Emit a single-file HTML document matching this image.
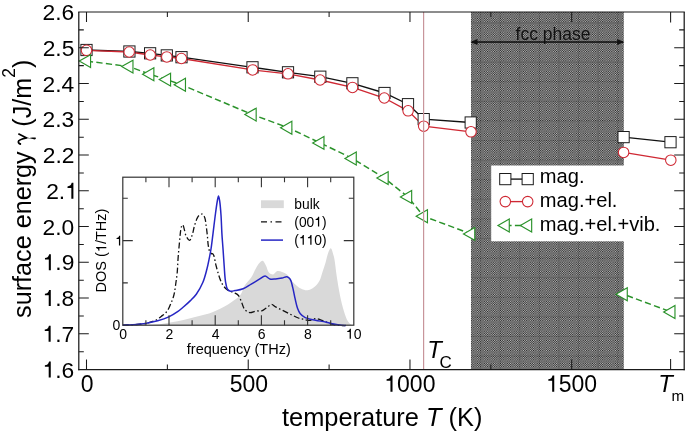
<!DOCTYPE html><html><head><meta charset="utf-8"><style>html,body{margin:0;padding:0;background:#fff;}svg{display:block;will-change:transform;}text{font-family:"Liberation Sans", sans-serif;}</style></head><body>
<svg width="685" height="431" viewBox="0 0 685 431">
<defs><pattern id="hp" x="471" y="12" width="2.3" height="2.3" patternUnits="userSpaceOnUse"><rect width="2.3" height="2.3" fill="#b8b8b8"/><rect width="1.15" height="1.15" fill="#262626"/><rect x="1.15" y="1.15" width="1.15" height="1.15" fill="#262626"/></pattern></defs>
<rect width="685" height="431" fill="#fff"/>
<polyline points="86.5,50.0 129.4,51.5 150.1,53.3 166.8,55.4 181.5,57.2 252.5,67.3 288.0,72.3 320.3,76.7 352.4,83.3 384.5,93.0 408.0,104.2 423.7,119.1 470.7,122.5 623.6,137.1 670.5,142.2" fill="none" stroke="#111" stroke-width="1.35"/>
<polyline points="86.5,50.3 129.2,52.0 150.2,55.0 166.8,56.9 181.4,58.5 252.6,69.9 288.0,73.8 320.1,80.0 352.5,87.4 384.3,98.0 408.1,110.8 423.7,126.2 471.0,131.8 623.6,152.4 670.8,160.2" fill="none" stroke="#cf2833" stroke-width="1.35"/>
<polyline points="86.8,61.1 129.2,66.6 150.1,74.3 166.8,79.6 181.7,84.8 252.4,114.6 288.1,127.7 320.2,142.9 352.5,158.5 384.4,178.1 407.9,196.9 423.7,216.3 471.0,233.9 623.5,294.2 671.2,312.0" fill="none" stroke="#2a922a" stroke-width="1.45" stroke-dasharray="6.3 3.3"/>
<rect x="471" y="12.0" width="152.79999999999995" height="357.6" fill="url(#hp)"/>
<path d="M480.6,12.0V369.6M500.2,12.0V369.6M519.8,12.0V369.6M539.4,12.0V369.6M559.0,12.0V369.6M578.6,12.0V369.6M598.2,12.0V369.6M617.8,12.0V369.6M471,258.1H623.8M471,238.5H623.8M471,218.9H623.8M471,199.3H623.8M471,179.7H623.8M471,160.1H623.8M471,140.5H623.8M471,120.9H623.8M471,101.3H623.8M471,81.7H623.8M471,62.1H623.8M471,42.5H623.8M471,22.9H623.8M471,277.7H623.8M471,297.3H623.8M471,316.9H623.8M471,336.5H623.8M471,356.1H623.8" stroke="#000" stroke-opacity="0.14" stroke-width="1" fill="none"/>
<line x1="472" y1="42" x2="623" y2="42" stroke="#111" stroke-width="1.3"/>
<polygon points="470.3,42 477.5,39 477.5,45" fill="#111"/>
<polygon points="624.3,42 617.1,39 617.1,45" fill="#111"/>
<text x="553" y="40.0" font-size="17.5" text-anchor="middle" fill="#111">fcc phase</text>
<rect x="80.90" y="44.40" width="11.2" height="11.2" fill="#fff" stroke="#1c1c1c" stroke-width="1.0"/>
<rect x="123.80" y="45.90" width="11.2" height="11.2" fill="#fff" stroke="#1c1c1c" stroke-width="1.0"/>
<rect x="144.50" y="47.70" width="11.2" height="11.2" fill="#fff" stroke="#1c1c1c" stroke-width="1.0"/>
<rect x="161.20" y="49.80" width="11.2" height="11.2" fill="#fff" stroke="#1c1c1c" stroke-width="1.0"/>
<rect x="175.90" y="51.60" width="11.2" height="11.2" fill="#fff" stroke="#1c1c1c" stroke-width="1.0"/>
<rect x="246.90" y="61.70" width="11.2" height="11.2" fill="#fff" stroke="#1c1c1c" stroke-width="1.0"/>
<rect x="282.40" y="66.70" width="11.2" height="11.2" fill="#fff" stroke="#1c1c1c" stroke-width="1.0"/>
<rect x="314.70" y="71.10" width="11.2" height="11.2" fill="#fff" stroke="#1c1c1c" stroke-width="1.0"/>
<rect x="346.80" y="77.70" width="11.2" height="11.2" fill="#fff" stroke="#1c1c1c" stroke-width="1.0"/>
<rect x="378.90" y="87.40" width="11.2" height="11.2" fill="#fff" stroke="#1c1c1c" stroke-width="1.0"/>
<rect x="402.40" y="98.60" width="11.2" height="11.2" fill="#fff" stroke="#1c1c1c" stroke-width="1.0"/>
<rect x="418.10" y="113.50" width="11.2" height="11.2" fill="#fff" stroke="#1c1c1c" stroke-width="1.0"/>
<rect x="465.10" y="116.90" width="11.2" height="11.2" fill="#fff" stroke="#1c1c1c" stroke-width="1.0"/>
<rect x="618.00" y="131.50" width="11.2" height="11.2" fill="#fff" stroke="#1c1c1c" stroke-width="1.0"/>
<rect x="664.90" y="136.60" width="11.2" height="11.2" fill="#fff" stroke="#1c1c1c" stroke-width="1.0"/>
<circle cx="86.50" cy="50.30" r="5.25" fill="#fff" stroke="#cf2833" stroke-width="1.05"/>
<circle cx="129.20" cy="52.00" r="5.25" fill="#fff" stroke="#cf2833" stroke-width="1.05"/>
<circle cx="150.20" cy="55.00" r="5.25" fill="#fff" stroke="#cf2833" stroke-width="1.05"/>
<circle cx="166.80" cy="56.90" r="5.25" fill="#fff" stroke="#cf2833" stroke-width="1.05"/>
<circle cx="181.40" cy="58.50" r="5.25" fill="#fff" stroke="#cf2833" stroke-width="1.05"/>
<circle cx="252.60" cy="69.90" r="5.25" fill="#fff" stroke="#cf2833" stroke-width="1.05"/>
<circle cx="288.00" cy="73.80" r="5.25" fill="#fff" stroke="#cf2833" stroke-width="1.05"/>
<circle cx="320.10" cy="80.00" r="5.25" fill="#fff" stroke="#cf2833" stroke-width="1.05"/>
<circle cx="352.50" cy="87.40" r="5.25" fill="#fff" stroke="#cf2833" stroke-width="1.05"/>
<circle cx="384.30" cy="98.00" r="5.25" fill="#fff" stroke="#cf2833" stroke-width="1.05"/>
<circle cx="408.10" cy="110.80" r="5.25" fill="#fff" stroke="#cf2833" stroke-width="1.05"/>
<circle cx="423.70" cy="126.20" r="5.25" fill="#fff" stroke="#cf2833" stroke-width="1.05"/>
<circle cx="471.00" cy="131.80" r="5.25" fill="#fff" stroke="#cf2833" stroke-width="1.05"/>
<circle cx="623.60" cy="152.40" r="5.25" fill="#fff" stroke="#cf2833" stroke-width="1.05"/>
<circle cx="670.80" cy="160.20" r="5.25" fill="#fff" stroke="#cf2833" stroke-width="1.05"/>
<polygon points="79.27,61.10 90.57,54.65 90.57,67.55" fill="#fff" stroke="#2a922a" stroke-width="1.15" stroke-linejoin="miter"/>
<polygon points="121.67,66.60 132.97,60.15 132.97,73.05" fill="#fff" stroke="#2a922a" stroke-width="1.15" stroke-linejoin="miter"/>
<polygon points="142.57,74.30 153.87,67.85 153.87,80.75" fill="#fff" stroke="#2a922a" stroke-width="1.15" stroke-linejoin="miter"/>
<polygon points="159.27,79.60 170.57,73.15 170.57,86.05" fill="#fff" stroke="#2a922a" stroke-width="1.15" stroke-linejoin="miter"/>
<polygon points="174.17,84.80 185.47,78.35 185.47,91.25" fill="#fff" stroke="#2a922a" stroke-width="1.15" stroke-linejoin="miter"/>
<polygon points="244.87,114.60 256.17,108.15 256.17,121.05" fill="#fff" stroke="#2a922a" stroke-width="1.15" stroke-linejoin="miter"/>
<polygon points="280.57,127.70 291.87,121.25 291.87,134.15" fill="#fff" stroke="#2a922a" stroke-width="1.15" stroke-linejoin="miter"/>
<polygon points="312.67,142.90 323.97,136.45 323.97,149.35" fill="#fff" stroke="#2a922a" stroke-width="1.15" stroke-linejoin="miter"/>
<polygon points="344.97,158.50 356.27,152.05 356.27,164.95" fill="#fff" stroke="#2a922a" stroke-width="1.15" stroke-linejoin="miter"/>
<polygon points="376.87,178.10 388.17,171.65 388.17,184.55" fill="#fff" stroke="#2a922a" stroke-width="1.15" stroke-linejoin="miter"/>
<polygon points="400.37,196.90 411.67,190.45 411.67,203.35" fill="#fff" stroke="#2a922a" stroke-width="1.15" stroke-linejoin="miter"/>
<polygon points="416.17,216.30 427.47,209.85 427.47,222.75" fill="#fff" stroke="#2a922a" stroke-width="1.15" stroke-linejoin="miter"/>
<polygon points="463.47,233.90 474.77,227.45 474.77,240.35" fill="#fff" stroke="#2a922a" stroke-width="1.15" stroke-linejoin="miter"/>
<polygon points="615.97,294.20 627.27,287.75 627.27,300.65" fill="#fff" stroke="#2a922a" stroke-width="1.15" stroke-linejoin="miter"/>
<polygon points="663.67,312.00 674.97,305.55 674.97,318.45" fill="#fff" stroke="#2a922a" stroke-width="1.15" stroke-linejoin="miter"/>
<line x1="423.6" y1="12.0" x2="423.6" y2="369.6" stroke="#c8959b" stroke-width="1.2"/>
<path d="M78.2,12.0H684.8000000000001" stroke="#1a1a1a" stroke-width="1.0"/>
<path d="M78.2,369.6H684.8000000000001" stroke="#1a1a1a" stroke-width="1.25"/>
<path d="M78.8,12.0V370.20000000000005M684.2,12.0V370.20000000000005" stroke="#1a1a1a" stroke-width="1.25"/>
<path d="M86.50,369.6v-10M86.50,12.0v10M167.37,369.6v-5M167.37,12.0v5M248.23,369.6v-10M248.23,12.0v10M329.10,369.6v-5M329.10,12.0v5M409.97,369.6v-10M409.97,12.0v10M490.84,369.6v-5M490.84,12.0v5M571.70,369.6v-10M571.70,12.0v10M670.6,369.6v-10.5M670.6,12.0v10.5M78.8,351.72h5M684.2,351.72h-5M78.8,333.84h10M684.2,333.84h-10M78.8,315.96h5M684.2,315.96h-5M78.8,298.08h10M684.2,298.08h-10M78.8,280.20h5M684.2,280.20h-5M78.8,262.32h10M684.2,262.32h-10M78.8,244.44h5M684.2,244.44h-5M78.8,226.56h10M684.2,226.56h-10M78.8,208.68h5M684.2,208.68h-5M78.8,190.80h10M684.2,190.80h-10M78.8,172.92h5M684.2,172.92h-5M78.8,155.04h10M684.2,155.04h-10M78.8,137.16h5M684.2,137.16h-5M78.8,119.28h10M684.2,119.28h-10M78.8,101.40h5M684.2,101.40h-5M78.8,83.52h10M684.2,83.52h-10M78.8,65.64h5M684.2,65.64h-5M78.8,47.76h10M684.2,47.76h-10M78.8,29.88h5M684.2,29.88h-5" stroke="#1a1a1a" stroke-width="1.05" fill="none"/>
<path d="M359,0L359,703L285,703C272,652 249,600 214,578C180,556 140,545 101,543L101,475L269,475L269,0Z" transform="translate(42.57,377.60) scale(0.02280,-0.02280)" fill="#000"/><text x="55.25" y="377.60" font-size="22.8" fill="#000">.6</text>
<path d="M359,0L359,703L285,703C272,652 249,600 214,578C180,556 140,545 101,543L101,475L269,475L269,0Z" transform="translate(42.46,341.84) scale(0.02280,-0.02280)" fill="#000"/><text x="55.14" y="341.84" font-size="22.8" fill="#000">.7</text>
<path d="M359,0L359,703L285,703C272,652 249,600 214,578C180,556 140,545 101,543L101,475L269,475L269,0Z" transform="translate(42.60,306.08) scale(0.02280,-0.02280)" fill="#000"/><text x="55.27" y="306.08" font-size="22.8" fill="#000">.8</text>
<path d="M359,0L359,703L285,703C272,652 249,600 214,578C180,556 140,545 101,543L101,475L269,475L269,0Z" transform="translate(42.67,270.32) scale(0.02280,-0.02280)" fill="#000"/><text x="55.34" y="270.32" font-size="22.8" fill="#000">.9</text>
<text x="42.55" y="234.56" font-size="22.8" fill="#000">2.0</text>
<text x="46.20" y="198.80" font-size="22.8" fill="#000">2.</text><path d="M359,0L359,703L285,703C272,652 249,600 214,578C180,556 140,545 101,543L101,475L269,475L269,0Z" transform="translate(65.21,198.80) scale(0.02280,-0.02280)" fill="#000"/>
<text x="42.83" y="163.04" font-size="22.8" fill="#000">2.2</text>
<text x="42.48" y="127.28" font-size="22.8" fill="#000">2.3</text>
<text x="42.46" y="91.52" font-size="22.8" fill="#000">2.4</text>
<text x="42.67" y="55.76" font-size="22.8" fill="#000">2.5</text>
<text x="42.57" y="20.00" font-size="22.8" fill="#000">2.6</text>
<text x="80.71" y="391.70" font-size="23" fill="#000">0</text>
<text x="229.71" y="391.70" font-size="23" fill="#000">500</text>
<path d="M359,0L359,703L285,703C272,652 249,600 214,578C180,556 140,545 101,543L101,475L269,475L269,0Z" transform="translate(384.26,391.70) scale(0.02300,-0.02300)" fill="#000"/><text x="397.05" y="391.70" font-size="23" fill="#000">000</text>
<path d="M359,0L359,703L285,703C272,652 249,600 214,578C180,556 140,545 101,543L101,475L269,475L269,0Z" transform="translate(545.99,391.70) scale(0.02300,-0.02300)" fill="#000"/><text x="558.78" y="391.70" font-size="23" fill="#000">500</text>
<text x="658.3" y="391.9" font-size="23.8" font-style="italic" fill="#000">T</text>
<text x="671.6" y="401" font-size="15.2" fill="#000">m</text>
<text x="427.3" y="358.4" font-size="23.8" font-style="italic" fill="#000">T</text>
<text x="439.5" y="367.8" font-size="17" fill="#000">C</text>
<text x="282" y="425.5" font-size="25.4" fill="#000">temperature <tspan font-style="italic">T</tspan> (K)</text>
<g transform="translate(30.8,317.9) rotate(-90)"><text x="0" y="0" font-size="25.2" fill="#000">surface energy</text><g transform="translate(173.69,0) scale(25.2,-25.2)"><path d="M0.004,0.385C0.01,0.46 0.05,0.494 0.099,0.494C0.17,0.494 0.22,0.30 0.25,0.163M0.417,0.494L0.25,0.163" fill="none" stroke="#000" stroke-width="0.068"/><path d="M0.283,0.19C0.25,0.07 0.18,-0.11 0.193,-0.17C0.203,-0.207 0.252,-0.212 0.264,-0.18C0.28,-0.12 0.262,0.0 0.222,0.19Z" fill="#000"/></g><text x="191.2" y="0" font-size="25.2" fill="#000">(J/m<tspan font-size="17.5" dy="-15.5">2</tspan><tspan dy="15.5">)</tspan></text></g>
<rect x="491.2" y="165.5" width="170" height="75.8" fill="#fff"/>
<line x1="505.3" y1="179.1" x2="527.7" y2="179.1" stroke="#111" stroke-width="1.35"/>
<rect x="499.70" y="173.50" width="11.2" height="11.2" fill="#fff" stroke="#1c1c1c" stroke-width="1.0"/><rect x="522.10" y="173.50" width="11.2" height="11.2" fill="#fff" stroke="#1c1c1c" stroke-width="1.0"/>
<line x1="505.3" y1="201.6" x2="527.7" y2="201.6" stroke="#cf2833" stroke-width="1.35"/>
<circle cx="505.30" cy="201.60" r="5.25" fill="#fff" stroke="#cf2833" stroke-width="1.05"/><circle cx="527.70" cy="201.60" r="5.25" fill="#fff" stroke="#cf2833" stroke-width="1.05"/>
<line x1="505.3" y1="225.5" x2="527.7" y2="225.5" stroke="#2a922a" stroke-width="1.45" stroke-dasharray="6.3 3.3"/>
<polygon points="497.97,225.50 509.27,219.05 509.27,231.95" fill="#fff" stroke="#2a922a" stroke-width="1.15" stroke-linejoin="miter"/><polygon points="520.37,225.50 531.67,219.05 531.67,231.95" fill="#fff" stroke="#2a922a" stroke-width="1.15" stroke-linejoin="miter"/>
<text x="539.8" y="182.7" font-size="20.1" fill="#000">mag.</text>
<text x="539.8" y="206.8" font-size="20.1" fill="#000">mag.+el.</text>
<text x="539.8" y="231.0" font-size="20.1" fill="#000">mag.+el.+vib.</text>
<rect x="122.8" y="177.2" width="231.0" height="148.0" fill="#fff"/>
<path d="M150.00,325.20C153.33,324.87 156.54,324.67 160.00,324.20C163.76,323.69 167.80,322.92 171.70,322.20C175.60,321.48 179.51,320.78 183.40,319.90C187.31,319.01 191.36,317.81 195.10,316.90C198.53,316.06 201.89,315.46 205.00,314.60C207.83,313.81 210.39,313.01 213.00,312.00C215.62,310.98 218.19,309.76 220.70,308.50C223.19,307.25 225.76,305.91 228.00,304.50C230.06,303.20 231.92,301.64 233.70,300.40C235.23,299.34 236.76,298.61 238.00,297.50C239.17,296.46 240.05,295.51 241.00,294.00C242.34,291.86 243.06,288.17 244.70,285.50C246.42,282.69 249.32,280.48 251.20,277.60C253.14,274.63 254.55,270.55 256.10,267.90C257.24,265.95 258.18,264.23 259.40,263.00C260.39,262.00 261.60,260.63 262.60,260.80C263.80,261.01 264.89,263.63 265.90,265.40C267.10,267.50 267.60,271.23 269.10,272.70C270.22,273.80 271.90,274.59 273.20,274.40C274.61,274.19 275.70,271.51 277.20,271.10C278.67,270.70 280.51,271.38 282.10,271.90C283.78,272.45 285.50,273.14 287.00,274.40C288.83,275.93 290.20,278.95 291.90,280.90C293.45,282.68 295.00,284.31 296.70,285.70C298.31,287.02 300.00,288.33 301.80,289.10C303.51,289.83 305.31,290.50 307.20,290.30C309.44,290.06 312.26,288.56 314.30,287.00C316.37,285.41 318.15,283.19 319.50,280.80C320.94,278.24 321.50,275.00 322.50,272.00C323.54,268.87 324.67,265.55 325.60,262.40C326.49,259.39 327.02,256.04 328.00,253.50C328.79,251.46 329.82,248.15 330.70,248.20C331.76,248.26 332.92,252.93 333.80,256.30C335.16,261.50 335.76,270.08 336.80,276.70C337.79,283.00 338.66,289.18 339.90,295.10C341.08,300.72 342.45,306.65 344.00,311.40C345.25,315.24 346.59,319.28 348.10,321.60C349.04,323.06 350.23,324.14 351.10,324.70C351.61,325.03 352.03,325.03 352.50,325.20Z" fill="#d9d9d9"/>
<path d="M122.80,325.20C127.43,324.97 132.61,324.86 136.70,324.50C139.94,324.21 142.72,323.93 145.40,323.40C147.77,322.93 150.02,322.24 152.00,321.60C153.66,321.06 155.04,320.70 156.50,319.90C158.11,319.02 159.68,317.52 161.20,316.40C162.61,315.36 164.08,314.67 165.30,313.40C166.65,311.99 167.82,309.99 168.80,308.20C169.74,306.48 170.39,304.59 171.10,302.90C171.75,301.37 172.37,300.07 172.90,298.50C173.49,296.76 173.96,295.02 174.40,292.90C174.96,290.18 175.35,286.74 175.80,283.50C176.28,280.03 176.83,276.58 177.20,272.70C177.63,268.18 177.74,262.92 178.10,258.00C178.47,253.02 179.00,247.42 179.40,243.00C179.72,239.50 179.93,236.47 180.30,233.60C180.62,231.14 180.76,228.32 181.40,226.80C181.77,225.91 182.39,224.84 182.80,224.90C183.33,224.98 183.65,227.15 184.10,228.60C184.73,230.63 185.06,233.94 186.10,236.00C186.99,237.76 188.59,240.51 189.60,240.40C190.64,240.28 191.47,237.02 192.20,235.00C193.06,232.61 193.42,229.58 194.20,226.90C194.99,224.18 195.92,220.86 196.90,218.80C197.56,217.41 198.07,216.29 199.00,215.50C199.89,214.75 201.37,213.84 202.30,214.10C203.30,214.38 204.08,215.99 204.70,217.50C205.64,219.78 205.85,223.79 206.30,226.90C206.74,229.95 207.07,232.92 207.40,236.00C207.74,239.18 207.82,242.86 208.30,245.70C208.68,247.98 209.05,250.43 209.80,251.80C210.27,252.66 210.89,253.22 211.50,253.60C212.00,253.91 212.62,253.59 213.10,254.10C214.33,255.39 214.84,261.03 215.80,264.60C216.80,268.33 217.82,272.55 219.00,276.00C220.02,278.96 220.86,281.74 222.30,284.10C223.64,286.29 225.26,288.38 227.20,289.80C229.08,291.18 231.76,291.62 233.70,292.60C235.36,293.44 236.97,293.87 238.20,295.20C239.69,296.80 240.44,299.66 241.50,302.00C242.61,304.43 243.16,307.69 244.70,309.50C246.00,311.03 247.78,312.30 249.60,312.60C251.55,312.92 253.99,311.29 256.10,311.00C258.05,310.73 260.04,311.34 261.80,310.80C263.58,310.25 265.07,308.76 266.70,307.70C268.34,306.63 270.04,304.43 271.60,304.40C272.99,304.38 274.01,306.01 275.60,306.90C277.80,308.13 280.99,309.56 283.70,310.90C286.43,312.25 289.32,313.76 291.90,315.00C294.18,316.10 296.39,317.28 298.40,318.00C300.04,318.59 301.34,318.83 303.00,319.20C304.93,319.63 307.23,320.50 309.30,320.40C311.36,320.30 313.45,318.65 315.40,318.60C317.17,318.55 318.68,319.22 320.50,319.80C322.72,320.50 325.39,321.86 327.70,322.70C329.80,323.47 331.74,324.23 333.80,324.70C335.81,325.16 337.95,325.35 339.90,325.50C341.67,325.63 343.30,325.57 345.00,325.60" fill="none" stroke="#111" stroke-width="1.3" stroke-dasharray="6 2.5 1.5 2.5"/>
<path d="M122.80,325.20C127.43,324.97 132.61,324.86 136.70,324.50C139.94,324.21 142.26,323.93 145.40,323.40C149.16,322.77 153.74,321.91 157.70,320.80C161.53,319.73 165.39,318.49 168.80,316.90C171.98,315.42 175.03,313.49 177.60,311.70C179.80,310.17 181.40,308.72 183.40,307.00C185.65,305.06 188.21,302.78 190.40,300.60C192.50,298.51 194.43,296.79 196.30,294.20C198.62,290.99 201.05,286.60 202.80,282.50C204.56,278.37 205.69,273.71 206.80,269.50C207.83,265.60 208.57,261.69 209.30,258.10C209.95,254.90 210.46,252.44 211.00,249.00C211.70,244.55 212.30,239.08 213.00,233.60C213.79,227.35 214.69,219.47 215.50,213.50C216.15,208.69 216.78,203.70 217.40,200.50C217.77,198.60 218.13,196.00 218.50,196.00C218.87,196.00 219.27,198.56 219.60,200.50C220.18,203.94 220.63,209.86 221.00,215.00C221.42,220.81 221.54,227.60 221.90,233.60C222.24,239.24 222.72,244.54 223.10,250.00C223.48,255.44 223.79,260.96 224.20,266.30C224.59,271.46 224.79,277.30 225.50,281.50C226.02,284.55 226.35,287.69 227.50,289.30C228.26,290.36 229.27,290.94 230.40,291.20C231.71,291.50 233.26,290.92 235.00,290.60C237.33,290.18 240.47,289.73 243.10,288.70C245.88,287.61 248.50,285.67 251.20,284.10C253.93,282.51 256.91,280.65 259.40,279.20C261.46,278.00 263.29,275.96 265.10,276.00C266.78,276.04 268.15,278.52 269.90,279.00C271.65,279.49 273.64,279.05 275.60,278.90C277.70,278.74 280.10,278.38 282.10,278.00C283.86,277.66 285.60,276.51 287.00,276.80C288.25,277.06 289.34,277.97 290.20,279.20C291.47,281.01 291.93,284.43 292.70,287.40C293.59,290.85 294.25,295.08 295.10,298.70C295.89,302.09 296.60,305.82 297.60,308.50C298.34,310.49 298.91,312.03 300.10,313.50C301.39,315.09 303.07,316.53 305.20,317.60C307.90,318.95 311.99,319.46 315.40,320.20C318.79,320.93 322.40,321.31 325.60,322.00C328.49,322.63 331.06,323.55 333.80,324.10C336.49,324.64 339.65,325.08 341.90,325.30C343.49,325.46 344.63,325.43 346.00,325.50" fill="none" stroke="#2626c4" stroke-width="1.5" stroke-linejoin="round"/>
<rect x="122.8" y="177.2" width="231.0" height="148.0" fill="none" stroke="#333" stroke-width="1.2"/>
<path d="M145.90,325.2v-5M145.90,177.2v5M169.00,325.2v-10M169.00,177.2v10M192.10,325.2v-5M192.10,177.2v5M215.20,325.2v-10M215.20,177.2v10M238.30,325.2v-5M238.30,177.2v5M261.40,325.2v-10M261.40,177.2v10M284.50,325.2v-5M284.50,177.2v5M307.60,325.2v-10M307.60,177.2v10M330.70,325.2v-5M330.70,177.2v5M122.8,282.90h5M353.8,282.90h-5M122.8,240.60h10M353.8,240.60h-10M122.8,198.30h5M353.8,198.30h-5" stroke="#333" stroke-width="1.1" fill="none"/>
<text x="119.21" y="338.70" font-size="14" fill="#000">0</text>
<text x="165.57" y="338.70" font-size="14" fill="#000">2</text>
<text x="211.66" y="338.70" font-size="14" fill="#000">4</text>
<text x="257.81" y="338.70" font-size="14" fill="#000">6</text>
<text x="304.02" y="338.70" font-size="14" fill="#000">8</text>
<path d="M359,0L359,703L285,703C272,652 249,600 214,578C180,556 140,545 101,543L101,475L269,475L269,0Z" transform="translate(345.87,338.70) scale(0.01400,-0.01400)" fill="#000"/><text x="353.65" y="338.70" font-size="14" fill="#000">0</text>
<text x="120.4" y="330.3" font-size="14" text-anchor="end" fill="#000">0</text>
<path d="M359,0L359,703L285,703C272,652 249,600 214,578C180,556 140,545 101,543L101,475L269,475L269,0Z" transform="translate(115.17,245.60) scale(0.01400,-0.01400)" fill="#000"/>
<text x="238.8" y="353.7" font-size="14.5" text-anchor="middle" fill="#000">frequency (THz)</text>
<g transform="translate(106.3,250.5) rotate(-90)"><text x="-41.89" y="0.00" font-size="14.5" fill="#000">DOS (</text><path d="M359,0L359,703L285,703C272,652 249,600 214,578C180,556 140,545 101,543L101,475L269,475L269,0Z" transform="translate(-1.61,0.00) scale(0.01450,-0.01450)" fill="#000"/><text x="6.45" y="0.00" font-size="14.5" fill="#000">/THz)</text></g>
<rect x="261" y="200.3" width="22.8" height="7.8" fill="#d9d9d9"/>
<line x1="261" y1="221.9" x2="283" y2="221.9" stroke="#111" stroke-width="1.3" stroke-dasharray="6 3.5 1.5 3.5"/>
<line x1="261" y1="240.1" x2="283" y2="240.1" stroke="#2626c4" stroke-width="1.5"/>
<text x="294.3" y="208.9" font-size="13.8" fill="#000">bulk</text>
<text x="294.30" y="226.50" font-size="13.8" fill="#000">(00</text><path d="M359,0L359,703L285,703C272,652 249,600 214,578C180,556 140,545 101,543L101,475L269,475L269,0Z" transform="translate(314.24,226.50) scale(0.01380,-0.01380)" fill="#000"/><text x="321.91" y="226.50" font-size="13.8" fill="#000">)</text>
<text x="294.30" y="244.80" font-size="13.8" fill="#000">(</text><path d="M359,0L359,703L285,703C272,652 249,600 214,578C180,556 140,545 101,543L101,475L269,475L269,0Z" transform="translate(298.90,244.80) scale(0.01380,-0.01380)" fill="#000"/><path d="M359,0L359,703L285,703C272,652 249,600 214,578C180,556 140,545 101,543L101,475L269,475L269,0Z" transform="translate(306.57,244.80) scale(0.01380,-0.01380)" fill="#000"/><text x="314.24" y="244.80" font-size="13.8" fill="#000">0)</text>
</svg></body></html>
